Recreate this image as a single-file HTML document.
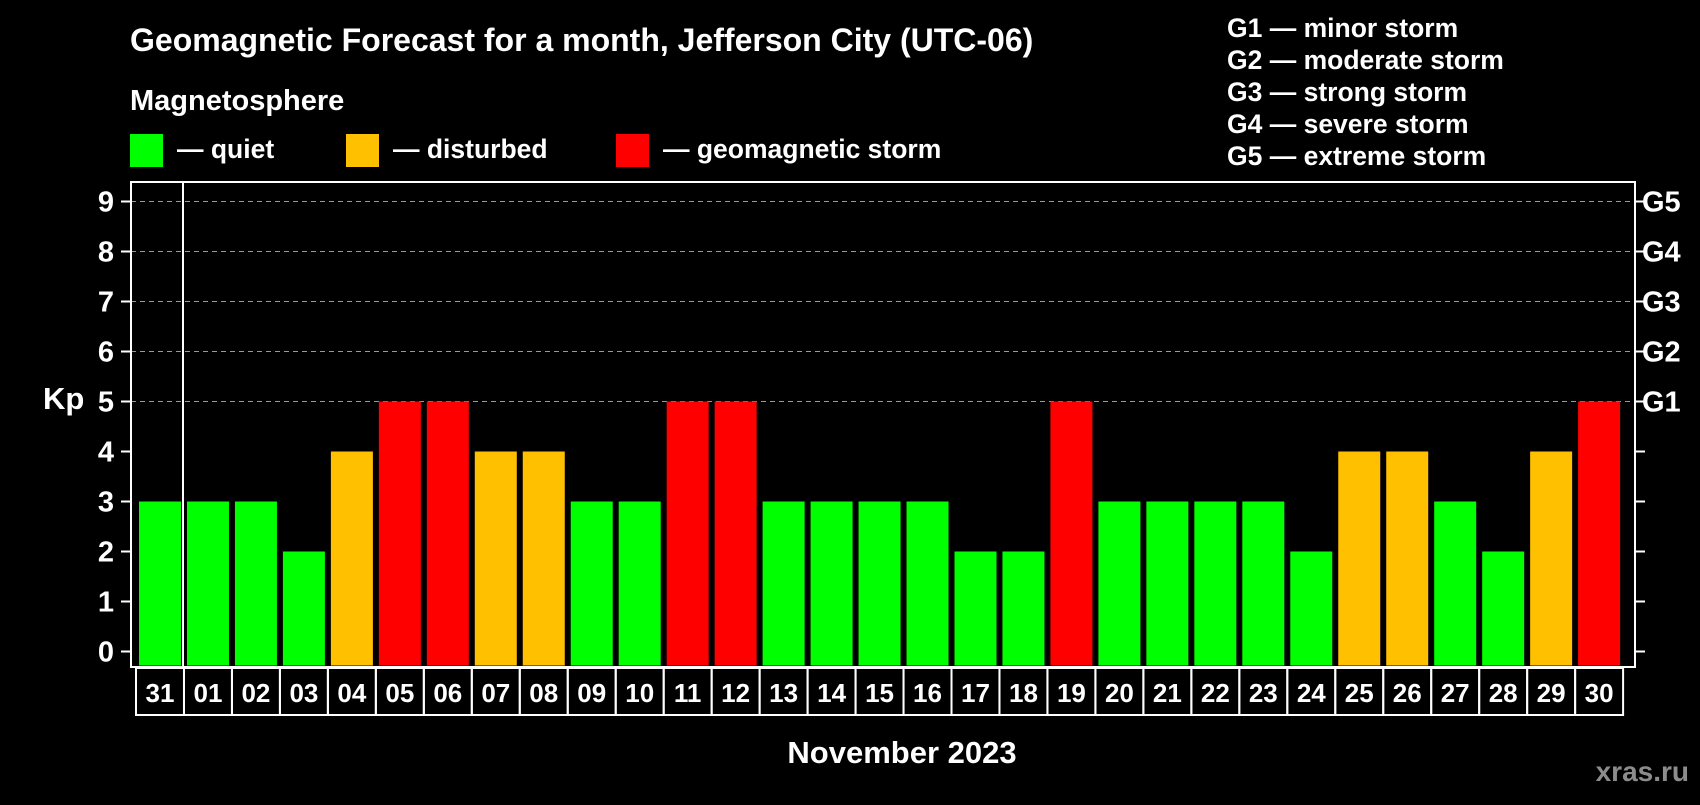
<!DOCTYPE html>
<html><head><meta charset="utf-8"><style>
body{margin:0;background:#000;width:1700px;height:800px;overflow:hidden;font-family:"Liberation Sans",sans-serif}
svg text{font-family:"Liberation Sans",sans-serif;font-weight:bold;fill:#fff}
</style></head><body>
<svg id="c" width="1700" height="800">
<text x="130" y="51" font-size="32">Geomagnetic Forecast for a month, Jefferson City (UTC-06)</text>
<text x="130" y="110" font-size="29">Magnetosphere</text>
<rect x="130" y="134" width="33" height="33" fill="#00ff00"/>
<text x="177" y="158" font-size="26.5">— quiet</text>
<rect x="346" y="134" width="33" height="33" fill="#ffc000"/>
<text x="393" y="158" font-size="26.5">— disturbed</text>
<rect x="616" y="134" width="33" height="33" fill="#ff0000"/>
<text x="663" y="158" font-size="26.5">— geomagnetic storm</text>
<g font-size="26.5">
<text x="1227" y="37">G1 — minor storm</text>
<text x="1227" y="69">G2 — moderate storm</text>
<text x="1227" y="101">G3 — strong storm</text>
<text x="1227" y="133">G4 — severe storm</text>
<text x="1227" y="165">G5 — extreme storm</text>
</g>
<text x="43" y="409" font-size="31">Kp</text>
<text x="902" y="763" font-size="31" text-anchor="middle">November 2023</text>
<text x="1689" y="781" font-size="28" text-anchor="end" style="fill:#8c8c8c">xras.ru</text>
<g id="grid"></g><g id="bars"></g><g id="labels"></g>
<rect x="131" y="182" width="1504" height="485" fill="none" stroke="#fff" stroke-width="2"/>
<line x1="183" y1="182" x2="183" y2="667" stroke="#fff" stroke-width="2"/>
</svg>
<script>
const days=["31","01","02","03","04","05","06","07","08","09","10","11","12","13","14","15","16","17","18","19","20","21","22","23","24","25","26","27","28","29","30"];
const kp=[3,3,3,2,4,5,5,4,4,3,3,5,5,3,3,3,3,2,2,5,3,3,3,3,2,4,4,3,2,4,5];
const yTicks=[0,1,2,3,4,5,6,7,8,9];
const gLabels=["G1","G2","G3","G4","G5"];
const NS="http://www.w3.org/2000/svg";
const y=v=>651.5-v*50;
const x=i=>139+i*47.97;
function mk(t,a,p){const e=document.createElementNS(NS,t);for(const k in a)e.setAttribute(k,a[k]);p.appendChild(e);return e;}
const grid=document.getElementById('grid'),bars=document.getElementById('bars'),labels=document.getElementById('labels');
yTicks.forEach(v=>{
 if(v>=5){const g=mk('line',{x1:131,x2:1635,y1:y(v),y2:y(v),stroke:'#999','stroke-dasharray':'5,4','stroke-width':1},grid);
 
 }
 const t1=mk('line',{x1:121,x2:131,y1:y(v),y2:y(v),stroke:'#fff','stroke-width':2},grid);
 
 
 const t2=mk('line',{x1:1635,x2:1645,y1:y(v),y2:y(v),stroke:'#fff','stroke-width':2},grid);
 
 
 const l=mk('text',{x:114,y:y(v)+10,'font-size':29,'text-anchor':'end'},grid);l.textContent=v;
 
 
 if(v>=5){const g=mk('text',{x:1642,y:y(v)+10,'font-size':29},grid);g.textContent=gLabels[v-5];
 
 }
});
kp.forEach((v,i)=>{
 const c=v>=5?'#ff0000':v==4?'#ffc000':'#00ff00';
 const r=mk('rect',{x:x(i),y:y(v),width:42,height:y(0)-y(v)+14,fill:c},bars);
 
 
 const b=mk('rect',{x:x(i)-3,y:668,width:48,height:47,fill:'none',stroke:'#fff','stroke-width':2},labels);
 
 
 const t=mk('text',{x:x(i)+21,y:702,'font-size':26,'text-anchor':'middle'},labels);t.textContent=days[i];
 
 
});
</script>
</body></html>
